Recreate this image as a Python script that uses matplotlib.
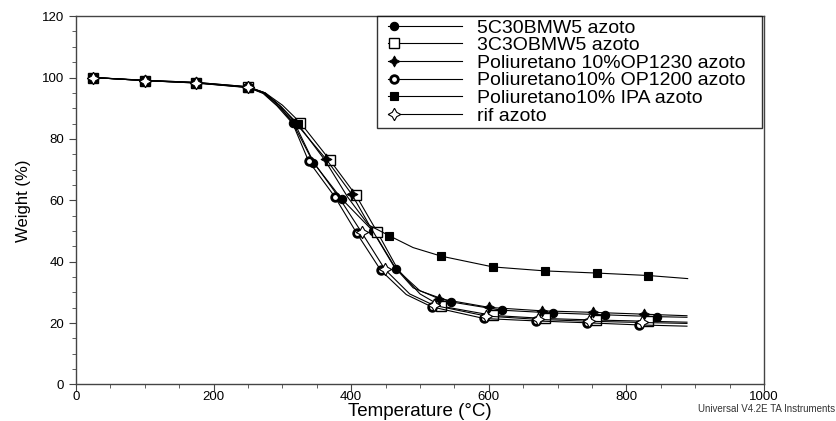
import numpy as np
import matplotlib
matplotlib.use("Agg")
import matplotlib.pyplot as plt
from matplotlib.legend_handler import HandlerLine2DCompound
from matplotlib.ticker import MultipleLocator

plt.rcParams['font.family'] = ['Liberation Sans', 'DejaVu Sans']

# TGA curves under nitrogen: temperature (degC) vs residual weight (%)
labels = ["5C30BMW5 azoto", "3C3OBMW5 azoto", "Poliuretano 10%OP1230 azoto",
          "Poliuretano10% OP1200 azoto", "Poliuretano10% IPA azoto", "rif azoto"]

t_5c30 = [22, 25, 100, 175, 250, 272, 295, 315, 345, 386, 432, 465, 500, 545, 619, 694, 769, 844, 888]
w_5c30 = [100, 100, 99.1, 98.4, 97.0, 95.2, 91.0, 85.2, 72.3, 60.5, 49.9, 37.7, 30.5, 26.9, 24.2, 23.3, 22.7, 22.1, 21.9]
m_5c30 = [1, 2, 3, 4, 7, 8, 9, 10, 11, 13, 14, 15, 16, 17]

t_3c3o = [22, 25, 100, 175, 250, 275, 300, 326, 369, 407, 438, 468, 500, 531, 606, 682, 756, 832, 888]
w_3c3o = [100, 100, 99.0, 98.2, 96.8, 95.0, 91.0, 85.3, 73.1, 61.6, 49.6, 37.4, 29.5, 25.5, 22.5, 21.5, 21.0, 20.6, 20.3]
m_3c3o = [1, 2, 3, 4, 7, 8, 9, 10, 13, 14, 15, 16, 17]

t_op1230 = [22, 25, 100, 175, 250, 275, 298, 320, 364, 401, 430, 462, 490, 527, 601, 677, 751, 826, 888]
w_op1230 = [100, 100, 99.1, 98.4, 97.0, 95.0, 90.5, 85.0, 73.3, 61.9, 50.5, 38.5, 31.5, 28.0, 25.1, 24.0, 23.5, 22.9, 22.4]
m_op1230 = [1, 2, 3, 4, 7, 8, 9, 13, 14, 15, 16, 17]

t_op1200 = [22, 25, 100, 175, 250, 272, 292, 315, 338, 376, 408, 443, 480, 517, 593, 669, 743, 819, 888]
w_op1200 = [100, 100, 99.0, 98.3, 96.8, 94.8, 90.8, 85.0, 72.8, 61.2, 49.3, 37.2, 29.3, 25.3, 21.5, 20.7, 20.1, 19.4, 19.0]
m_op1200 = [1, 2, 3, 4, 8, 9, 10, 11, 13, 14, 15, 16, 17]

t_ipa = [22, 25, 100, 175, 250, 275, 298, 322, 362, 395, 425, 455, 490, 531, 606, 682, 757, 832, 889]
w_ipa = [100, 100, 99.0, 98.2, 96.7, 94.8, 90.5, 85.0, 73.0, 61.0, 52.0, 48.5, 44.6, 41.8, 38.3, 37.0, 36.3, 35.5, 34.5]
m_ipa = [1, 2, 3, 4, 7, 11, 13, 14, 15, 16, 17]

t_rif = [22, 25, 100, 175, 250, 273, 294, 318, 345, 382, 415, 449, 485, 520, 596, 672, 746, 822, 888]
w_rif = [100, 100, 99.0, 98.3, 96.9, 94.9, 90.6, 85.0, 72.5, 61.0, 49.6, 37.5, 29.5, 25.8, 22.3, 21.2, 20.6, 20.2, 19.9]
m_rif = [1, 2, 3, 4, 10, 11, 13, 14, 15, 16, 17]

curves = [
    (t_5c30, w_5c30, m_5c30, dict(marker='o', ms=6, mfc='black', mec='black', mew=0.8)),
    (t_3c3o, w_3c3o, m_3c3o, dict(marker='s', ms=6.5, mfc='white', mec='black', mew=1.0)),
    (t_op1230, w_op1230, m_op1230, dict(marker=(4, 1, 0), ms=8, mfc='black', mec='black', mew=0.6)),
    (t_op1200, w_op1200, m_op1200, dict(marker='o', ms=5.5, mfc='white', mec='black', mew=2.0)),
    (t_ipa, w_ipa, m_ipa, dict(marker='s', ms=6, mfc='black', mec='black', mew=0.8)),
    (t_rif, w_rif, m_rif, dict(marker=(4, 1, 0), ms=9, mfc='white', mec='black', mew=0.8)),
]


class MarkerAtStart(HandlerLine2DCompound):
    # legend handle with the marker near the left end of the line
    def get_xdata(self, legend, xdescent, ydescent, width, height, fontsize):
        xdata = np.array([-xdescent + 0.1 * width, -xdescent + width])
        xdata_marker = np.array([-xdescent + 0.17 * width])
        return xdata, xdata_marker


fig = plt.figure(figsize=(8.36, 4.21), dpi=100)
ax = fig.add_axes([0.0909, 0.0867, 0.823, 0.875])

handles = []
for (t, w, mk, style), lab in zip(curves, labels):
    h, = ax.plot(t, w, color='black', lw=0.8, markevery=mk, label=lab, **style)
    handles.append(h)

ax.set_xlim(0, 1000)
ax.set_ylim(0, 120)
ax.xaxis.set_major_locator(MultipleLocator(200))
ax.xaxis.set_minor_locator(MultipleLocator(50))
ax.yaxis.set_major_locator(MultipleLocator(20))
ax.yaxis.set_minor_locator(MultipleLocator(5))
ax.tick_params(which='both', direction='out', colors='#444444', labelcolor='black',
               labelsize=9.5, top=False, right=False)
ax.tick_params(which='major', length=5)
ax.tick_params(which='minor', length=3)
ax.tick_params(axis='x', pad=0)
for sp in ax.spines.values():
    sp.set_color('#444444')
    sp.set_linewidth(1.0)

ax.set_xlabel("Temperature (°C)", fontsize=13.5, labelpad=0)
ax.set_ylabel("Weight (%)", fontsize=12, labelpad=8)

leg = ax.legend(handles=handles, loc='upper right', bbox_to_anchor=(0.4375, 0.0, 0.5595, 1.0),
                mode='expand', borderaxespad=0, frameon=True, fancybox=False, fontsize=14,
                handlelength=4.2, handletextpad=0.8, labelspacing=0.0,
                borderpad=0.15, handler_map={h: MarkerAtStart(numpoints=1) for h in handles})
leg.get_frame().set_edgecolor('black')
leg.get_frame().set_linewidth(1.0)

fig.text(0.999, 0.028, "Universal V4.2E TA Instruments", fontsize=7, color='#333333',
         ha='right', va='center')

fig.savefig("out.png", dpi=100)
